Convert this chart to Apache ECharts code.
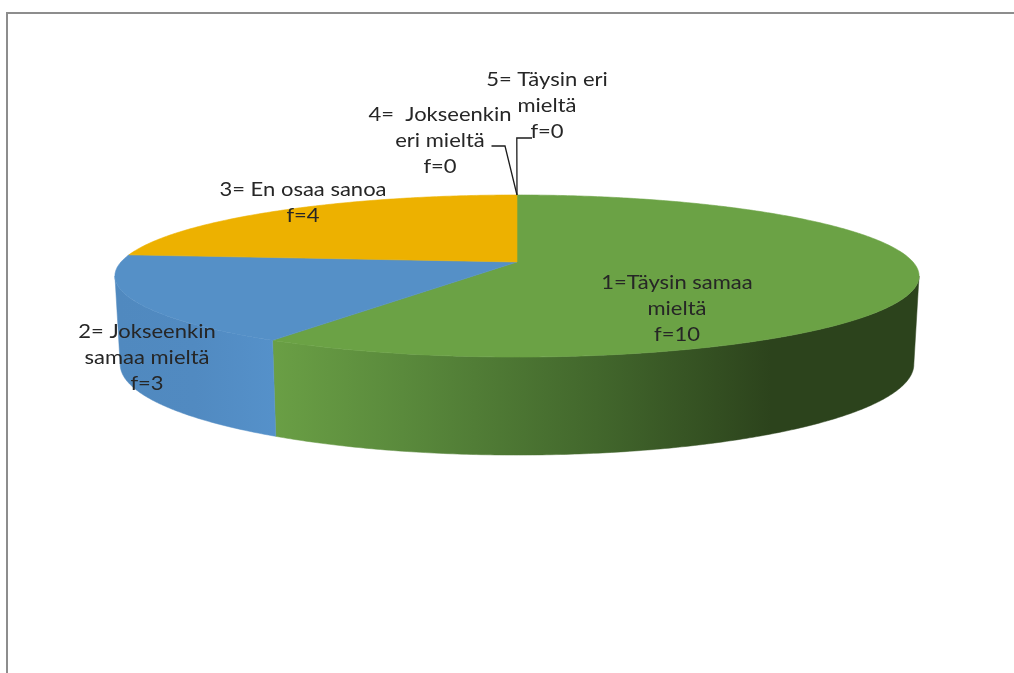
<!DOCTYPE html>
<html><head><meta charset="utf-8">
<style>html,body{margin:0;padding:0;background:#fff}#c{width:1014px;height:673px}</style>
<script src="https://cdn.jsdelivr.net/npm/echarts@6/dist/echarts.min.js"></script>
</head><body><div id="c"></div>
<script>
const categories = ['1=Täysin samaa\nmieltä', '2= Jokseenkin\nsamaa mieltä', '3= En osaa sanoa', '4=  Jokseenkin\neri mieltä', '5= Täysin eri\nmieltä'];
const frequencies = [10, 3, 4, 0, 0];
const topColors = ['#6ba245', '#5590c7', '#edb100', '#a5a5a5', '#4472c4'];

// Layout of the tilted disc
const CX = 517, CY = 262, RX = 396, RY = 78.6, K = 0.173;
const labelPos = [[677, 270], [147, 319], [303, 177], [440, 102], [547, 67]];
const leaders = {3: [[491.5, 146], [505, 146]], 4: [[532, 138], [516.8, 138]]};
const total = frequencies.reduce((a, b) => a + b, 0);
const cum = []; frequencies.reduce((a, b, i) => (cum[i] = a, a + b), 0);

function topPt(t) {
  const u = Math.sin(t), v = -Math.cos(t), d = 1 - K * v;
  return [CX + RX * u / d, CY + RY * v / d, d];
}
function bottomPt(t) {
  const p = topPt(t);
  return [CX + (p[0] - CX) * 0.987, p[1] + 32 + 54.6 / p[2]];
}
function arc(a, b, fn) {
  const n = Math.max(2, Math.ceil(Math.abs(b - a) / 0.01)), out = [];
  for (let i = 0; i <= n; i++) out.push(fn(a + (b - a) * i / n));
  return out;
}
const VIS_A = Math.acos(-K), VIS_B = 2 * Math.PI - VIS_A;

const sideFills = [
  {type: 'linear', global: true, x: 273, y: 0, x2: 920, y2: 0, colorStops: [
    {offset: 0, color: '#6a9f45'}, {offset: 0.2, color: '#5a8a3c'}, {offset: 0.5, color: '#42672c'},
    {offset: 0.77, color: '#2c431c'}, {offset: 1, color: '#2c431c'}]},
  {type: 'linear', global: true, x: 115, y: 0, x2: 275, y2: 0, colorStops: [
    {offset: 0, color: '#5089bf'}, {offset: 0.5, color: '#518ac1'}, {offset: 1, color: '#5591ca'}]}
];

function renderItem(params, api) {
  const i = params.dataIndex, val = api.value(1), before = cum[i];
  const a = before / total * 2 * Math.PI, b = (before + val) / total * 2 * Math.PI;
  const children = [];
  if (val > 0) {
    const sa = Math.max(a, VIS_A), sb = Math.min(b, VIS_B);
    if (sb > sa) {
      const pts = arc(sa, sb, topPt).map(p => [p[0], p[1]]).concat(arc(sb, sa, bottomPt));
      children.push({type: 'polygon', shape: {points: pts}, style: {fill: sideFills[i] || topColors[i], stroke: sideFills[i] || topColors[i], lineWidth: 0.5}});
    }
    const face = [[CX, CY]].concat(arc(a, b, topPt).map(p => [p[0], p[1]]));
    children.push({type: 'polygon', shape: {points: face}, style: {fill: topColors[i], stroke: topColors[i], lineWidth: 0.6}});
  } else {
    const t = topPt(a);
    children.push({type: 'polyline', shape: {points: leaders[i].concat([[t[0], t[1]]])},
      style: {stroke: '#1c1c1c', lineWidth: 1.3, fill: 'none'}});
  }
  children.push({type: 'text', z2: 10, x: labelPos[i][0], y: labelPos[i][1], scaleX: 1.1, style: {
    text: categories[i] + '\nf=' + val, x: 0, y: 0,
    align: 'center', verticalAlign: 'top', lineHeight: 25.7,
    font: '20px Lato, sans-serif', fill: '#262626'}});
  return {type: 'group', children};
}

const chart = echarts.init(document.getElementById('c'), null, {renderer: 'canvas'});
chart.setOption({
  animation: false,
  backgroundColor: '#fff',
  graphic: [
    {type: 'line', shape: {x1: 6, y1: 13, x2: 1014, y2: 13}, style: {stroke: '#8d8d8d', lineWidth: 2}},
    {type: 'line', shape: {x1: 7, y1: 13, x2: 7, y2: 673}, style: {stroke: '#8d8d8d', lineWidth: 2}}
  ],
  series: [{
    type: 'custom', coordinateSystem: 'none', renderItem,
    data: frequencies.map((v, i) => [i, v])
  }]
});
</script></body></html>
